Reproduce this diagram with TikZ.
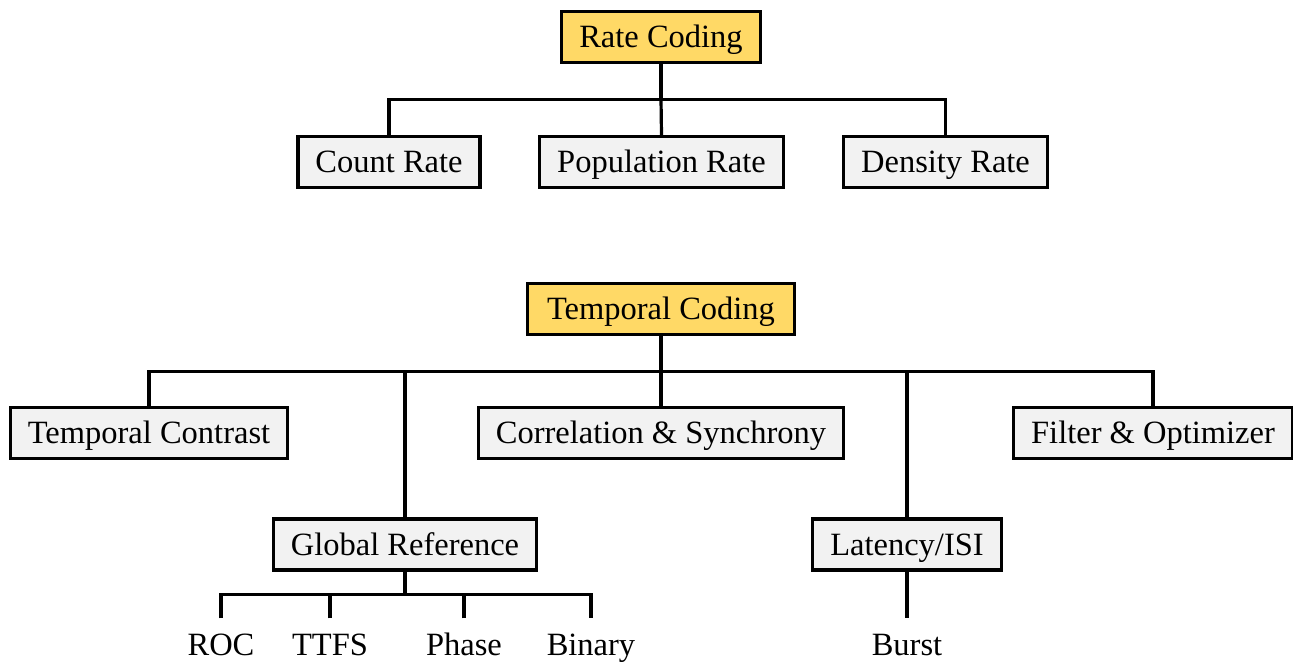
\documentclass[tikz,border=0pt]{standalone}
\usepackage{fontspec}
\setmainfont{Liberation Serif}
\definecolor{rootfill}{HTML}{FFD966}
\definecolor{boxfill}{HTML}{F2F2F2}
\begin{document}
\begin{tikzpicture}[x=1pt,y=-1pt,
  font=\fontsize{32.5}{39}\selectfont,
  line width=3.2pt,
  treebox/.style={draw=black, line width=3.2pt, fill=boxfill, minimum height=51pt,
    inner xsep=17.5pt, inner ysep=0pt, text height=21pt, text depth=0pt},
  rootbox/.style={treebox, fill=rootfill},
  leaf/.style={inner sep=0pt, text height=35pt, text depth=0pt, anchor=base},
  link/.style={draw=black, line width=3.2pt}]
\useasboundingbox (0,0) rectangle (1293,662);

% rate coding branch
\node[rootbox] (rate) at (661,37) {Rate Coding};
\node[treebox] (count) at (389,162) {Count Rate};
\node[treebox] (pop) at (661.5,162) {Population Rate};
\node[treebox] (density) at (945.5,162) {Density Rate};

\path (rate.south) ++(0,35) coordinate (rb);
\draw[link] (rate.south) -- (rb);
\draw[link] (count.north) |- (rb) -| (density.north);
\draw[link] (rb) -- (pop.north);

% temporal coding branch
\node[rootbox, inner xsep=19.5pt] (temp) at (661,309) {Temporal Coding};
\node[treebox] (contrast) at (149,433) {Temporal Contrast};
\node[treebox] (corr) at (661,433) {Correlation \& Synchrony};
\node[treebox] (filter) at (1153,433) {Filter \& Optimizer};
\node[treebox] (global) at (405,544.5) {Global Reference};
\node[treebox] (latency) at (907,544.5) {Latency/ISI};

\path (temp.south) ++(0,35) coordinate (tb);
\draw[link] (temp.south) -- (tb);
\draw[link] (contrast.north) |- (tb) -| (filter.north);
\draw[link] (tb) -- (corr.north);
\draw[link] (global.north) -- (global.north |- tb);
\draw[link] (latency.north) -- (latency.north |- tb);

% leaves
\node[leaf] (roc) at (221,655) {ROC};
\node[leaf] (ttfs) at (330,655) {TTFS};
\node[leaf] (phase) at (464,655) {Phase};
\node[leaf] (binary) at (591,655) {Binary};
\node[leaf] (burst) at (907,655) {Burst};

\path (global.south) ++(0,23) coordinate (gb);
\draw[link] (global.south) -- (gb);
\draw[link] (roc.north) |- (gb) -| (binary.north);
\draw[link] (ttfs.north) -- (ttfs.north |- gb);
\draw[link] (phase.north) -- (phase.north |- gb);
\draw[link] (latency.south) -- (burst.north);
\end{tikzpicture}
\end{document}
